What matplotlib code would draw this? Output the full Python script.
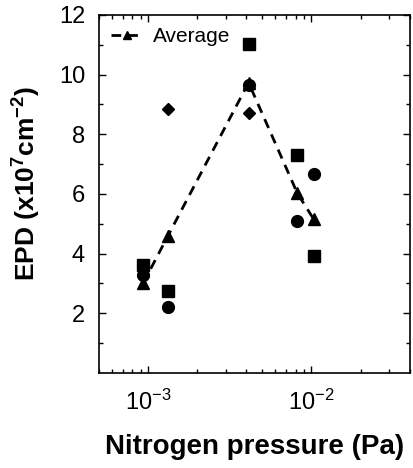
import numpy as np
import matplotlib
matplotlib.use('Agg')
import matplotlib.pyplot as plt
from matplotlib.ticker import LogLocator, FixedLocator, NullFormatter

plt.rcParams['font.family'] = ['Liberation Sans', 'DejaVu Sans']
plt.rcParams['mathtext.fontset'] = 'custom'
plt.rcParams['mathtext.rm'] = 'Liberation Sans'
plt.rcParams['mathtext.bf'] = 'Liberation Sans:bold'
plt.rcParams['mathtext.default'] = 'regular'

# Data
sq_x = [9.3e-4, 1.32e-3, 4.12e-3, 8.2e-3, 1.03e-2]
sq_y = [3.62, 2.76, 11.02, 7.31, 3.92]
ci_x = [9.3e-4, 1.32e-3, 4.12e-3, 8.2e-3, 1.03e-2]
ci_y = [3.28, 2.20, 9.65, 5.09, 6.67]
di_x = [9.3e-4, 1.32e-3, 4.12e-3]
di_y = [3.25, 8.85, 8.70]
avg_x = [9.3e-4, 1.32e-3, 4.12e-3, 8.2e-3, 1.03e-2]
avg_y = [3.00, 4.59, 9.73, 6.02, 5.16]

fig = plt.figure(figsize=(4.14, 4.68), dpi=100)
ax = fig.add_axes([0.239, 0.203, 0.751, 0.765])

ax.plot(sq_x, sq_y, 's', color='black', markersize=8, linestyle='none')
ax.plot(ci_x, ci_y, 'o', color='black', markersize=8.5, linestyle='none')
ax.plot(di_x, di_y, 'D', color='black', markersize=6, linestyle='none')
ax.plot(avg_x, avg_y, '--^', color='black', markersize=8, linewidth=2,
        dashes=(3.5, 2.5), label='Average')

ax.set_xscale('log')
ax.set_xlim(5e-4, 4e-2)
ax.set_ylim(0, 12)
ax.set_yticks([2, 4, 6, 8, 10, 12])
ax.yaxis.set_minor_locator(FixedLocator([1, 3, 5, 7, 9, 11]))
ax.set_xticks([1e-3, 1e-2])
ax.set_xticklabels(['$10^{-3}$', '$10^{-2}$'])
ax.xaxis.set_minor_locator(LogLocator(base=10, subs=np.arange(2, 10)))
ax.xaxis.set_minor_formatter(NullFormatter())

ax.tick_params(which='both', direction='in', top=True, right=True,
               labelsize=17, width=1)
ax.tick_params(which='major', length=5)
ax.tick_params(which='minor', length=3)
ax.tick_params(axis='x', pad=12)
ax.tick_params(axis='y', pad=10)
for s in ax.spines.values():
    s.set_linewidth(1.2)

ax.set_xlabel('Nitrogen pressure (Pa)', fontsize=20, fontweight='bold', labelpad=14)
ax.set_ylabel('EPD (x10$^{7}$cm$^{-2}$)', fontsize=19, fontweight='bold')
ax.yaxis.set_label_coords(-0.18, 0.53)

ax.legend(loc='upper left', frameon=False, fontsize=15, handlelength=1.5,
          borderaxespad=0.2, handletextpad=0.5, markerscale=0.7)

fig.savefig('out.png', dpi=100)
